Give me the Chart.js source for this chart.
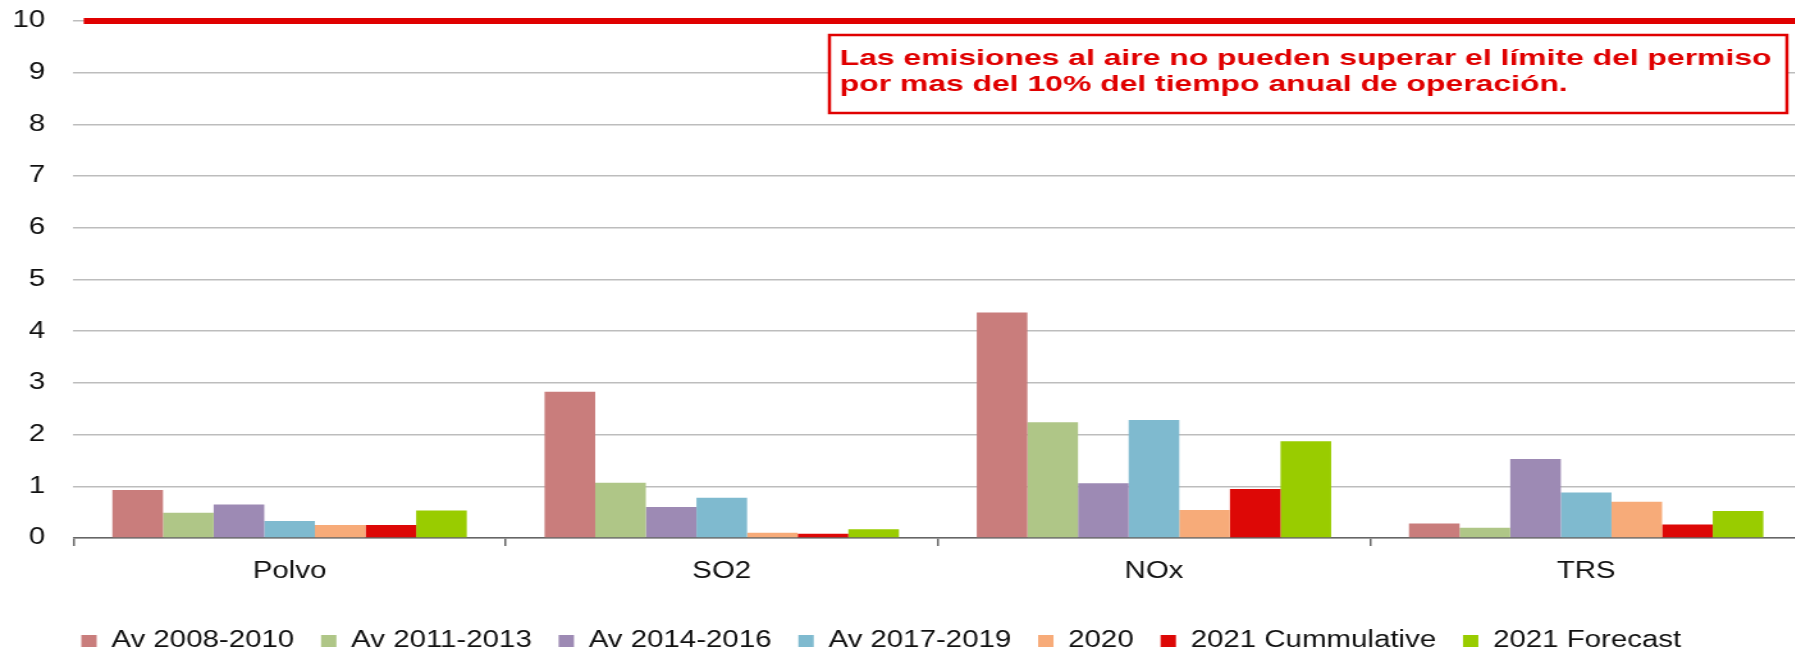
<!DOCTYPE html>
<html>
<head>
<meta charset="utf-8">
<title>Emisiones</title>
<script src="https://cdn.jsdelivr.net/npm/chart.js@4/dist/chart.umd.min.js"></script>
<style>
  html, body { margin: 0; padding: 0; background: #fff; overflow: hidden; }
  #wrap { width: 1795px; height: 649px; overflow: hidden; }
  /* the picture is stretched sideways, so the canvas is too */
  #chart { display: block; transform: scaleX(1.28); transform-origin: 0 0; }
</style>
</head>
<body>
<div id="wrap"><canvas id="chart" width="1408" height="649"></canvas></div>
<script>
const categories = ["Polvo", "SO2", "NOx", "TRS"];

const av2008_2010 = [0.93, 2.83, 4.36, 0.28];
const av2011_2013 = [0.49, 1.07, 2.24, 0.20];
const av2014_2016 = [0.65, 0.60, 1.06, 1.53];
const av2017_2019 = [0.33, 0.78, 2.28, 0.88];
const y2020 = [0.25, 0.10, 0.54, 0.70];
const y2021Cum = [0.25, 0.08, 0.95, 0.26];
const y2021Fcst = [0.53, 0.17, 1.87, 0.52];

const seriesLabels = ["Av 2008-2010", "Av 2011-2013", "Av 2014-2016", "Av 2017-2019", "2020", "2021 Cummulative", "2021 Forecast"];
const seriesValues = [av2008_2010, av2011_2013, av2014_2016, av2017_2019, y2020, y2021Cum, y2021Fcst];
const seriesColors = ["#c97d7c", "#afc687", "#9d8ab4", "#7fbacf", "#f7ab79", "#dd0806", "#99cc00"];

const yMin = 0;
const yMax = 10;
const yStep = 1;
const limitValue = 10;

const noteLines = [
  "Las emisiones al aire no pueden superar el límite del permiso",
  "por mas del 10% del tiempo anual de operación."
];

const FONT = "'Liberation Sans', Arial, sans-serif";
const RED = "#e00000";

// thick red line at the permit limit
const limitLine = {
  id: "limitLine",
  afterDatasetsDraw(chart) {
    const { ctx, chartArea, scales } = chart;
    const y = scales.y.getPixelForValue(limitValue);
    ctx.save();
    ctx.strokeStyle = RED;
    ctx.lineWidth = 6;
    ctx.beginPath();
    ctx.moveTo(chartArea.left + 8, y);
    ctx.lineTo(chartArea.right, y);
    ctx.stroke();
    ctx.restore();
  },
};

// boxed red note under the limit line
const noteBox = {
  id: "noteBox",
  afterDraw(chart) {
    const { ctx } = chart;
    const left = 648, top = 35, w = 748, h = 78;
    ctx.save();
    ctx.fillStyle = "#fff";
    ctx.fillRect(left, top, w, h);
    ctx.strokeStyle = RED;
    ctx.lineWidth = 2.5;
    ctx.strokeRect(left, top, w, h);
    ctx.font = "bold 22px " + FONT;
    ctx.fillStyle = RED;
    ctx.textBaseline = "alphabetic";
    const sx = 728 / ctx.measureText(noteLines[0]).width;
    noteLines.forEach((line, i) => {
      ctx.save();
      ctx.translate(656, 65 + i * 26);
      ctx.scale(sx, 1);
      ctx.fillText(line, 0, 0);
      ctx.restore();
    });
    ctx.restore();
  },
};

const datasets = seriesLabels.map((label, i) => ({
  label: label,
  data: seriesValues[i],
  backgroundColor: seriesColors[i],
  borderWidth: 0,
  categoryPercentage: 0.82,
  barPercentage: 1.0,
}));

new Chart(document.getElementById("chart"), {
  type: "bar",
  data: { labels: categories, datasets: datasets },
  plugins: [limitLine, noteBox],
  options: {
    responsive: false,
    animation: false,
    devicePixelRatio: 1,
    layout: { padding: { left: -31, right: 0, top: 21, bottom: -13.5 } },
    plugins: {
      tooltip: { enabled: false },
      legend: {
        position: "bottom",
        labels: {
          boxWidth: 12,
          boxHeight: 12,
          padding: 21,
          color: "#111",
          font: { family: FONT, size: 23 },
        },
      },
    },
    scales: {
      x: {
        afterFit(scale) { scale.height = 70.5; },
        grid: {
          drawOnChartArea: false,
          drawTicks: true,
          tickLength: 8,
          color: "#666",
          lineWidth: 1.5,
        },
        border: { display: true, color: "#666", width: 1.5 },
        ticks: { color: "#111", padding: 12, font: { family: FONT, size: 23 } },
      },
      y: {
        min: yMin,
        max: yMax,
        afterFit(scale) { scale.width = 88.4; },
        grid: {
          color: "#bdbdbd",
          lineWidth: 1.5,
          drawTicks: true,
          tickLength: 19,
          tickColor: "rgba(0,0,0,0)",
        },
        border: { display: false },
        ticks: { stepSize: yStep, color: "#111", padding: 3, font: { family: FONT, size: 23 } },
      },
    },
  },
});
</script>
</body>
</html>
